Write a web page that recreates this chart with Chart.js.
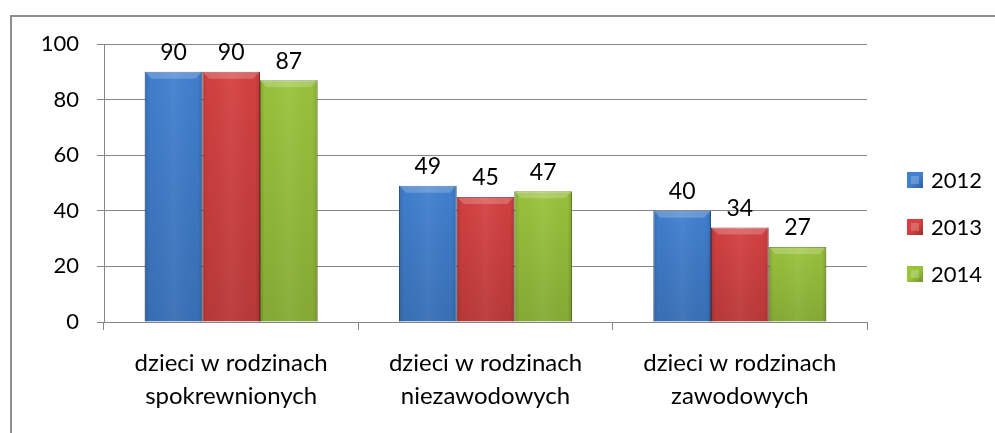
<!DOCTYPE html>
<html>
<head>
<meta charset="utf-8">
<script src="https://cdn.jsdelivr.net/npm/chart.js@4.4.1/dist/chart.umd.min.js"></script>
<style>
  body { margin: 0; background: #fff; overflow: hidden; }
  #frame { position: absolute; left: 10px; top: 15px; width: 1100px; height: 600px; border: 2px solid #8e8e8e; }
  #chart { position: absolute; left: 0; top: 0; }
</style>
</head>
<body>
<div id="frame"></div>
<canvas id="chart" width="995" height="433"></canvas>
<script>
const categories = [
  ["dzieci w rodzinach", "spokrewnionych"],
  ["dzieci w rodzinach", "niezawodowych"],
  ["dzieci w rodzinach", "zawodowych"],
];
const seriesNames = ["2012", "2013", "2014"];
const values2012 = [90, 49, 40];
const values2013 = [90, 45, 34];
const values2014 = [87, 47, 27];
const barColors = ["#4180d0", "#d54141", "#9ac43c"];
const edgeColors = ["#2f5f9e", "#9e2c2c", "#6f8f2a"];

const font = "Lato, 'Open Sans', sans-serif";

// bevel-ish shading on top of the plain bars
const shading = {
  id: "shading",
  afterDatasetsDraw(chart) {
    const ctx = chart.ctx;
    chart.data.datasets.forEach((ds, i) => {
      chart.getDatasetMeta(i).data.forEach((bar) => {
        const left = bar.x - bar.width / 2;
        const top = bar.y;
        const w = bar.width;
        const h = bar.base - bar.y;
        ctx.save();
        const g = ctx.createLinearGradient(left, 0, left + w, 0);
        g.addColorStop(0, "rgba(0,0,0,0.16)");
        g.addColorStop(0.08, "rgba(0,0,0,0.02)");
        g.addColorStop(0.5, "rgba(255,255,255,0.05)");
        g.addColorStop(0.92, "rgba(0,0,0,0.02)");
        g.addColorStop(1, "rgba(0,0,0,0.16)");
        ctx.fillStyle = g;
        ctx.fillRect(left, top, w, h);
        const v = ctx.createLinearGradient(0, top, 0, bar.base);
        v.addColorStop(0, "rgba(0,0,0,0)");
        v.addColorStop(1, "rgba(0,0,0,0.12)");
        ctx.fillStyle = v;
        ctx.fillRect(left, top, w, h);
        // top bevel
        ctx.beginPath();
        ctx.moveTo(left, top);
        ctx.lineTo(left + w, top);
        ctx.lineTo(left + w - 7, top + 7);
        ctx.lineTo(left + 7, top + 7);
        ctx.closePath();
        ctx.fillStyle = "rgba(255,255,255,0.2)";
        ctx.fill();
        ctx.restore();
      });
    });
  },
};

const valueLabels = {
  id: "valueLabels",
  afterDatasetsDraw(chart) {
    const ctx = chart.ctx;
    ctx.save();
    ctx.font = "23px " + font;
    ctx.fillStyle = "#000";
    ctx.textAlign = "center";
    ctx.textBaseline = "middle";
    chart.data.datasets.forEach((ds, i) => {
      chart.getDatasetMeta(i).data.forEach((bar, j) => {
        ctx.fillText(ds.data[j], bar.x, bar.y - 19);
      });
    });
    ctx.restore();
  },
};

const sideLegend = {
  id: "sideLegend",
  afterDraw(chart) {
    const ctx = chart.ctx;
    const x = chart.chartArea.right + 40;
    ctx.save();
    ctx.font = "22px " + font;
    ctx.textBaseline = "middle";
    chart.data.datasets.forEach((ds, i) => {
      const y = 180 + i * 47;
      const g = ctx.createLinearGradient(x, y - 8, x + 16, y + 8);
      g.addColorStop(0, ds.backgroundColor);
      g.addColorStop(0.5, ds.backgroundColor);
      g.addColorStop(1, ds.borderColor);
      ctx.fillStyle = g;
      ctx.fillRect(x, y - 8, 16, 16);
      ctx.fillStyle = "rgba(255,255,255,0.2)";
      ctx.fillRect(x + 4, y - 4, 8, 8);
      ctx.fillStyle = "#000";
      ctx.fillText(ds.label, x + 24, y + 1);
    });
    ctx.restore();
  },
};

new Chart(document.getElementById("chart"), {
  type: "bar",
  data: {
    labels: categories,
    datasets: [values2012, values2013, values2014].map((data, i) => ({
      label: seriesNames[i],
      data: data,
      backgroundColor: barColors[i],
      borderColor: edgeColors[i],
      borderWidth: 1,
      barPercentage: 1,
      categoryPercentage: 0.68,
    })),
  },
  options: {
    responsive: false,
    animation: false,
    layout: { padding: { top: 44, right: 128, left: 0, bottom: 0 } },
    plugins: {
      legend: { display: false },
      tooltip: { enabled: false },
    },
    scales: {
      x: {
        afterFit: (scale) => { scale.height = 111; },
        grid: { drawOnChartArea: false, drawTicks: true, tickLength: 8, color: "#868686" },
        border: { color: "#868686", width: 1 },
        ticks: {
          color: "#000",
          padding: 16,
          maxRotation: 0,
          font: { family: font, size: 24, lineHeight: 1.4 },
        },
      },
      y: {
        min: 0,
        max: 100,
        afterFit: (scale) => { scale.width = 104; },
        grid: { color: "#868686", tickLength: 7 },
        border: { color: "#868686", width: 1 },
        ticks: {
          stepSize: 20,
          color: "#000",
          padding: 18,
          font: { family: font, size: 22 },
        },
      },
    },
  },
  plugins: [shading, valueLabels, sideLegend],
});
</script>
</body>
</html>
